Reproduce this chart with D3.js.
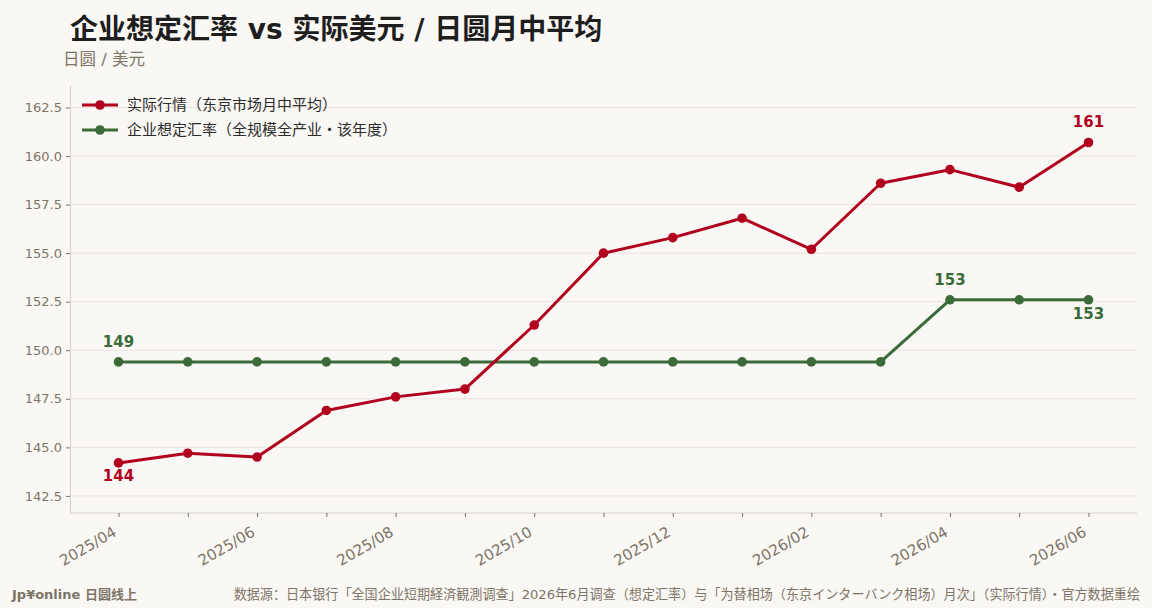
<!DOCTYPE html>
<html>
<head>
<meta charset="utf-8">
<script src="https://cdn.jsdelivr.net/npm/d3@7"></script>
<style>
    body { margin: 0; background: #faf8f5; }
    text { font-family: "DejaVu Sans", "Noto Sans CJK SC", sans-serif; }
</style>
</head>
<body>
<div id="graphique"></div>
<script>
// Données
const mois = ["2025/04","2025/05","2025/06","2025/07","2025/08","2025/09","2025/10","2025/11","2025/12",
              "2026/01","2026/02","2026/03","2026/04","2026/05","2026/06"];
const reel = [144.2, 144.7, 144.5, 146.9, 147.6, 148.0, 151.3, 155.0, 155.8, 156.8, 155.2, 158.6, 159.3, 158.4, 160.7];
const suppose = [149.4, 149.4, 149.4, 149.4, 149.4, 149.4, 149.4, 149.4, 149.4, 149.4, 149.4, 149.4, 152.6, 152.6, 152.6];
const ticksY = [142.5, 145, 147.5, 150, 152.5, 155, 157.5, 160, 162.5];
const moisAffiches = ["2025/04","2025/06","2025/08","2025/10","2025/12","2026/02","2026/04","2026/06"];
const legendes = ["实际行情（东京市场月中平均）", "企业想定汇率（全规模全产业・该年度）"];

const rouge = "#b0001e";
const vert = "#3b6b38";
const gris = "#7d7467";

const svg = d3.select("#graphique")
    .append("svg")
    .attr("width", 1152)
    .attr("height", 608)
    .style("background", "#faf8f5");

const gauche = 70, droite = 1137, haut = 85, bas = 513;

const x = d3.scalePoint().domain(mois).range([gauche, droite]).padding(0.7);
const y = d3.scaleLinear().domain([141.62, 163.66]).range([bas, haut]);

// Grille horizontale
svg.append("g")
    .selectAll("line")
    .data(ticksY)
    .join("line")
    .attr("x1", gauche).attr("x2", droite)
    .attr("y1", d => y(d)).attr("y2", d => y(d))
    .attr("stroke", "#ebe3dc").attr("stroke-width", 1);

// Axe Y
const axeY = svg.append("g")
    .attr("transform", "translate(" + gauche + ",0)")
    .call(d3.axisLeft(y).tickValues(ticksY).tickFormat(d3.format(".1f")).tickSize(4).tickSizeOuter(0));
axeY.select(".domain").attr("stroke", "#d9cfc6");
axeY.selectAll(".tick line").attr("stroke", gris);
axeY.selectAll("text").attr("fill", gris).style("font-size", "13px").attr("x", -8);

// Axe X
const axeX = svg.append("g")
    .attr("transform", "translate(0," + bas + ")")
    .call(d3.axisBottom(x).tickSize(4).tickSizeOuter(0)
        .tickFormat(d => moisAffiches.includes(d) ? d : ""));
axeX.select(".domain").attr("stroke", "#d9cfc6").attr("d", "M" + gauche + ",0H" + droite);
axeX.selectAll(".tick line").attr("stroke", gris);
axeX.selectAll("text")
    .attr("fill", gris)
    .style("font-size", "15px")
    .attr("text-anchor", "end")
    .attr("dy", 0)
    .attr("transform", "translate(-5,16) rotate(-30)");

// Courbes
function dessinerSerie(valeurs, couleur) {
    const ligne = d3.line().x((d, i) => x(mois[i])).y(d => y(d));
    svg.append("path")
        .datum(valeurs)
        .attr("d", ligne)
        .attr("fill", "none")
        .attr("stroke", couleur)
        .attr("stroke-width", 3)
        .attr("stroke-linejoin", "round");
    svg.append("g")
        .selectAll("circle")
        .data(valeurs)
        .join("circle")
        .attr("cx", (d, i) => x(mois[i]))
        .attr("cy", d => y(d))
        .attr("r", 4.8)
        .attr("fill", couleur);
}
dessinerSerie(suppose, vert);
dessinerSerie(reel, rouge);

// Etiquettes des valeurs (index, série, décalage)
function etiquette(i, valeurs, couleur, dy) {
    svg.append("text")
        .attr("x", x(mois[i]))
        .attr("y", y(valeurs[i]) + dy)
        .attr("text-anchor", "middle")
        .attr("fill", couleur)
        .style("font-size", "15px")
        .style("font-weight", "bold")
        .text(d3.format(".0f")(valeurs[i]));
}
etiquette(0, reel, rouge, 18);
etiquette(14, reel, rouge, -15);
etiquette(0, suppose, vert, -15);
etiquette(12, suppose, vert, -15);
etiquette(14, suppose, vert, 19);

// Légende
const legende = svg.append("g").attr("transform", "translate(82,105)");
[rouge, vert].forEach((c, i) => {
    const g = legende.append("g").attr("transform", "translate(0," + (i * 25) + ")");
    g.append("line").attr("x1", 0).attr("x2", 36).attr("y1", 0).attr("y2", 0)
        .attr("stroke", c).attr("stroke-width", 3);
    g.append("circle").attr("cx", 18).attr("cy", 0).attr("r", 4.8).attr("fill", c);
    g.append("text").attr("x", 45).attr("y", 5)
        .attr("fill", "#2b2b2b").style("font-size", "15px")
        .text(legendes[i]);
});

// Titres
svg.append("text")
    .attr("x", 70).attr("y", 39)
    .attr("fill", "#1e1e1e")
    .style("font-size", "28px").style("font-weight", "bold")
    .text("企业想定汇率 vs 实际美元 / 日圆月中平均");
svg.append("text")
    .attr("x", 63).attr("y", 65)
    .attr("fill", gris).style("font-size", "16.5px")
    .text("日圆 / 美元");

// Pied de page
svg.append("text")
    .attr("x", 12).attr("y", 599)
    .attr("fill", gris).style("font-size", "13px").style("font-weight", "bold")
    .text("Jp¥online 日圆线上");
svg.append("text")
    .attr("x", 1140).attr("y", 599)
    .attr("text-anchor", "end")
    .attr("fill", gris).style("font-size", "13.1px")
    .text("数据源：日本银行「全国企业短期経済観測调查」2026年6月调查（想定汇率）与「为替相场（东京インターバンク相场）月次」（实际行情）・官方数据重绘");
</script>
</body>
</html>
